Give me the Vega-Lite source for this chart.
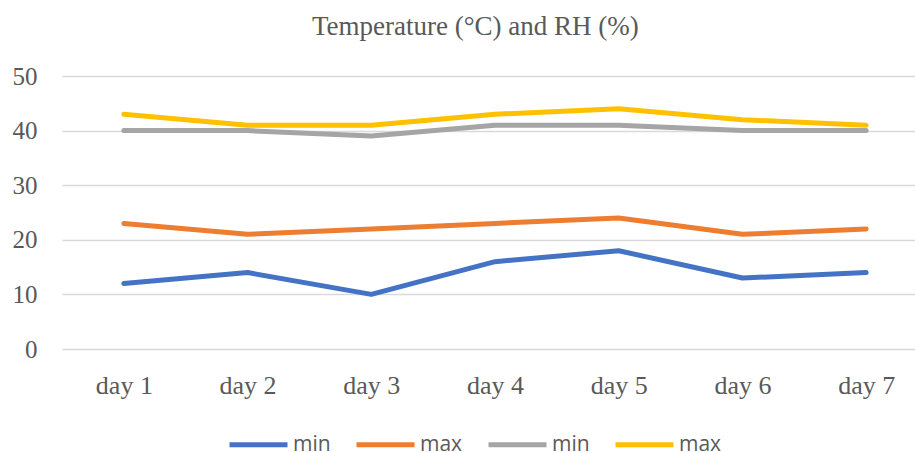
{
  "$schema": "https://vega.github.io/schema/vega-lite/v6.json",
  "autosize": "none",
  "width": 866,
  "height": 273,
  "padding": {"left": 62, "top": 76, "right": 0, "bottom": 103},
  "background": "white",
  "title": {
    "text": "Temperature (°C) and RH (%)",
    "font": "Liberation Serif",
    "fontSize": 27,
    "fontWeight": "normal",
    "color": "#595959",
    "anchor": "start",
    "frame": "group",
    "dx": 250,
    "offset": 23
  },
  "config": {
    "view": {"stroke": null},
    "axis": {"labelColor": "#595959", "labelFont": "Liberation Serif", "labelFontSize": 24}
  },
  "data": {
    "values": [
      {"day": "day 1", "series": "Tmin", "value": 12},
      {"day": "day 2", "series": "Tmin", "value": 14},
      {"day": "day 3", "series": "Tmin", "value": 10},
      {"day": "day 4", "series": "Tmin", "value": 16},
      {"day": "day 5", "series": "Tmin", "value": 18},
      {"day": "day 6", "series": "Tmin", "value": 13},
      {"day": "day 7", "series": "Tmin", "value": 14},
      {"day": "day 1", "series": "Tmax", "value": 23},
      {"day": "day 2", "series": "Tmax", "value": 21},
      {"day": "day 3", "series": "Tmax", "value": 22},
      {"day": "day 4", "series": "Tmax", "value": 23},
      {"day": "day 5", "series": "Tmax", "value": 24},
      {"day": "day 6", "series": "Tmax", "value": 21},
      {"day": "day 7", "series": "Tmax", "value": 22},
      {"day": "day 1", "series": "RHmin", "value": 40},
      {"day": "day 2", "series": "RHmin", "value": 40},
      {"day": "day 3", "series": "RHmin", "value": 39},
      {"day": "day 4", "series": "RHmin", "value": 41},
      {"day": "day 5", "series": "RHmin", "value": 41},
      {"day": "day 6", "series": "RHmin", "value": 40},
      {"day": "day 7", "series": "RHmin", "value": 40},
      {"day": "day 1", "series": "RHmax", "value": 43},
      {"day": "day 2", "series": "RHmax", "value": 41},
      {"day": "day 3", "series": "RHmax", "value": 41},
      {"day": "day 4", "series": "RHmax", "value": 43},
      {"day": "day 5", "series": "RHmax", "value": 44},
      {"day": "day 6", "series": "RHmax", "value": 42},
      {"day": "day 7", "series": "RHmax", "value": 41}
    ]
  },
  "mark": {"type": "line", "strokeWidth": 5, "strokeCap": "round", "strokeJoin": "round"},
  "encoding": {
    "x": {
      "field": "day",
      "type": "ordinal",
      "scale": {"type": "point", "padding": 0.5},
      "axis": {
        "title": null,
        "labelAngle": 0,
        "labelFontSize": 26,
        "domain": false,
        "ticks": false,
        "labelPadding": 23,
        "grid": false
      }
    },
    "y": {
      "field": "value",
      "type": "quantitative",
      "scale": {"domain": [0, 50], "nice": false},
      "axis": {
        "title": null,
        "values": [0, 10, 20, 30, 40, 50],
        "labelFontSize": 25,
        "domain": false,
        "ticks": false,
        "labelPadding": 25,
        "gridColor": "#D9D9D9",
        "gridWidth": 1.3
      }
    },
    "color": {
      "field": "series",
      "type": "nominal",
      "scale": {
        "domain": ["Tmin", "Tmax", "RHmin", "RHmax"],
        "range": ["#4472C4", "#ED7D31", "#A5A5A5", "#FFC000"]
      },
      "legend": {
        "title": null,
        "orient": "none",
        "legendX": 165,
        "legendY": 337,
        "direction": "horizontal",
        "columns": 4,
        "columnPadding": 15,
        "symbolType": "stroke",
        "symbolSize": 3364,
        "symbolStrokeWidth": 5,
        "labelOffset": 3,
        "labelFont": "Open Sans",
        "labelFontSize": 21,
        "labelColor": "#595959",
        "labelExpr": "indexof(datum.label, 'min') >= 0 ? 'min' : 'max'"
      }
    }
  }
}
